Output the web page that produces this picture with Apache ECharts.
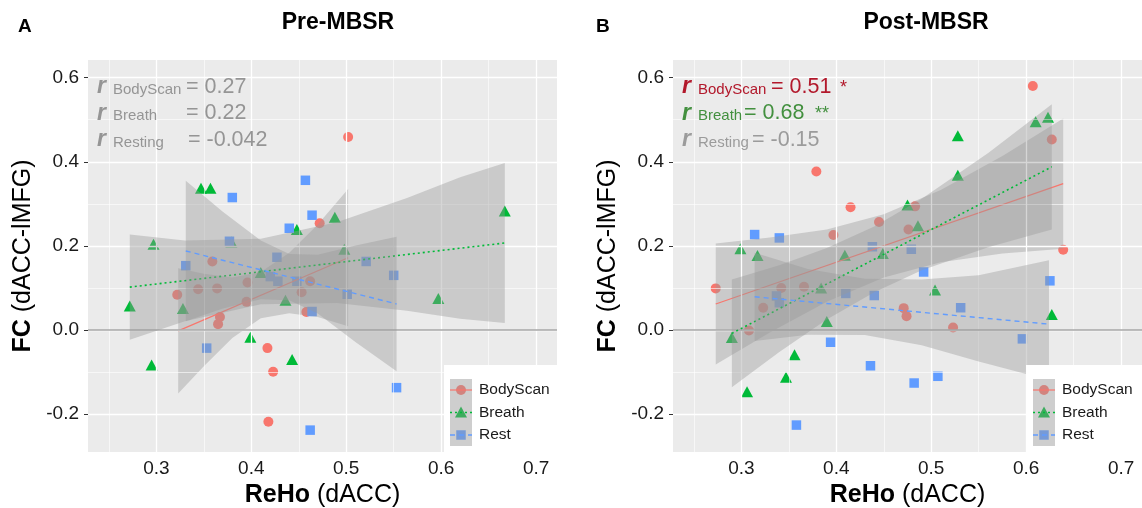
<!DOCTYPE html>
<html>
<head>
<meta charset="utf-8">
<script src="https://cdn.jsdelivr.net/npm/echarts@6/dist/echarts.min.js"></script>
<style>
html, body { margin: 0; padding: 0; background: #fff; }
#main { width: 1142px; height: 508px; }
</style>
</head>
<body>
<div id="main"></div>
<script>
// axis ranges and ticks
var xRange = [0.228, 0.722];
var yRange = [-0.29, 0.642];
var xTicks = [0.3, 0.4, 0.5, 0.6, 0.7];
var yTicks = [-0.2, 0, 0.2, 0.4, 0.6];
var xMinor = [0.25, 0.35, 0.45, 0.55, 0.65];
var yMinor = [-0.1, 0.1, 0.3, 0.5];

var groups = ['BodyScan', 'Breath', 'Rest'];

// Pre-MBSR points [ReHo, FC]
var preBodyScan = [[0.502,0.459],[0.472,0.254],[0.462,0.116],[0.453,0.090],[0.458,0.043],[0.417,-0.043],[0.423,-0.099],[0.418,-0.218],
    [0.359,0.163],[0.322,0.084],[0.344,0.097],[0.364,0.099],[0.396,0.113],[0.395,0.067],[0.367,0.031],[0.365,0.014]];
var preBreath = [[0.347,0.337],[0.357,0.337],[0.297,0.204],[0.379,0.209],[0.272,0.057],[0.328,0.051],[0.295,-0.083],[0.399,-0.017],
    [0.448,0.239],[0.488,0.268],[0.498,0.192],[0.410,0.137],[0.436,0.071],[0.443,-0.070],[0.667,0.283],[0.597,0.075]];
var preRest = [[0.380,0.315],[0.377,0.211],[0.331,0.153],[0.353,-0.043],[0.457,0.356],[0.464,0.273],[0.440,0.242],[0.427,0.173],
    [0.420,0.127],[0.428,0.116],[0.448,0.116],[0.501,0.085],[0.521,0.163],[0.550,0.130],[0.464,0.044],[0.553,-0.137],[0.462,-0.238]];

// Post-MBSR points
var postBodyScan = [[0.379,0.377],[0.273,0.099],[0.397,0.226],[0.342,0.100],[0.366,0.103],[0.323,0.053],[0.308,-0.001],[0.415,0.292],
    [0.445,0.257],[0.483,0.294],[0.476,0.239],[0.471,0.052],[0.474,0.033],[0.523,0.006],[0.607,0.580],[0.627,0.453],[0.639,0.191]];
var postBreath = [[0.299,0.193],[0.317,0.177],[0.384,0.100],[0.390,0.020],[0.290,-0.018],[0.356,-0.059],[0.347,-0.112],[0.306,-0.147],
    [0.528,0.462],[0.528,0.368],[0.475,0.297],[0.486,0.248],[0.409,0.178],[0.449,0.182],[0.504,0.095],[0.610,0.495],[0.623,0.506],[0.627,0.037]];
var postRest = [[0.314,0.227],[0.340,0.219],[0.337,0.081],[0.340,0.065],[0.394,-0.029],[0.358,-0.226],[0.438,0.198],[0.479,0.192],
    [0.492,0.138],[0.410,0.087],[0.440,0.082],[0.531,0.053],[0.436,-0.085],[0.482,-0.126],[0.507,-0.110],[0.625,0.117],[0.596,-0.021]];

// fitted lines (end points)
var preFitBodyScan = [[0.323,-0.002],[0.502,0.172]];
var preFitBreath = [[0.272,0.102],[0.667,0.207]];
var preFitRest = [[0.331,0.188],[0.553,0.062]];
var postFitBodyScan = [[0.273,0.062],[0.639,0.348]];
var postFitBreath = [[0.290,-0.008],[0.627,0.388]];
var postFitRest = [[0.314,0.079],[0.624,0.014]];

// confidence bands [x, lower, upper]
var preBandBodyScan = [[0.323,-0.151,0.147],[0.35,-0.086,0.134],[0.38,-0.019,0.125],[0.41,0.028,0.138],[0.44,0.040,0.184],[0.47,0.031,0.251],[0.502,0.009,0.335]];
var preBandBreath = [[0.272,-0.023,0.227],[0.33,0.021,0.213],[0.41,0.061,0.217],[0.49,0.064,0.256],[0.564,0.046,0.314],[0.62,0.027,0.363],[0.667,0.017,0.397]];
var preBandRest = [[0.331,0.021,0.355],[0.37,0.051,0.281],[0.41,0.073,0.213],[0.44,0.071,0.181],[0.47,0.039,0.179],[0.51,-0.029,0.201],[0.553,-0.098,0.222]];
var postBandBodyScan = [[0.273,-0.082,0.206],[0.33,-0.006,0.220],[0.39,0.067,0.239],[0.45,0.125,0.275],[0.51,0.161,0.333],[0.575,0.182,0.414],[0.639,0.193,0.503]];
var postBandBreath = [[0.29,-0.136,0.120],[0.34,-0.052,0.154],[0.39,0.025,0.195],[0.44,0.090,0.246],[0.49,0.142,0.312],[0.56,0.197,0.421],[0.627,0.239,0.537]];
var postBandRest = [[0.314,-0.026,0.184],[0.37,-0.011,0.145],[0.43,-0.012,0.122],[0.49,-0.036,0.120],[0.55,-0.075,0.130],[0.624,-0.119,0.166]];

var colors = ['#F8766D', '#00BA38', '#619CFF'];
var symbols = ['circle', 'triangle', 'rect'];
var symSizes = [10, [12, 11], 9.5];
var dashes = ['solid', [2, 3], [5, 4]];
var lineWidths = [1.2, 1.6, 1.4];
var font = '"Liberation Sans", Arial, Helvetica, sans-serif';

var panels = [
    { pts: [preBodyScan, preBreath, preRest], fits: [preFitBodyScan, preFitBreath, preFitRest], bands: [preBandBodyScan, preBandBreath, preBandRest] },
    { pts: [postBodyScan, postBreath, postRest], fits: [postFitBodyScan, postFitBreath, postFitRest], bands: [postBandBodyScan, postBandBreath, postBandRest] }
];

var myChart = echarts.init(document.getElementById('main'), null, { renderer: 'canvas' });

function bandSeries(band, idx, z) {
    return {
        type: 'custom', xAxisIndex: idx, yAxisIndex: idx, z: z, silent: true,
        data: [0],
        renderItem: function (params, api) {
            var pts = [];
            for (var i = 0; i < band.length; i++) pts.push(api.coord([band[i][0], band[i][2]]));
            for (var j = band.length - 1; j >= 0; j--) pts.push(api.coord([band[j][0], band[j][1]]));
            return { type: 'polygon', shape: { points: pts }, style: { fill: 'rgba(153,153,153,0.4)' } };
        }
    };
}

var series = [];
var grids = [], xAxes = [], yAxes = [];
var lefts = [88, 673];
var nameStyle = { fontSize: 25, color: '#000', fontFamily: font,
    rich: { b: { fontSize: 25, fontWeight: 'bold', color: '#000', fontFamily: font } } };

panels.forEach(function (p, idx) {
    grids.push({ left: lefts[idx], top: 60, width: 469, height: 392, show: true, backgroundColor: '#EBEBEB', borderWidth: 0, outerBoundsMode: 'none' });
    xAxes.push({
        gridIndex: idx, type: 'value', min: xRange[0], max: xRange[1],
        axisLine: { show: false },
        axisTick: { show: true, length: 4, customValues: xTicks, lineStyle: { color: '#333', width: 1 } },
        axisLabel: { customValues: xTicks, margin: 7, fontSize: 19, color: '#1a1a1a', fontFamily: font,
            formatter: function (v) { return v.toFixed(1); } },
        splitLine: { show: false },
        name: '{b|ReHo} (dACC)', nameLocation: 'middle', nameGap: 27.5,
        nameTextStyle: nameStyle
    });
    yAxes.push({
        gridIndex: idx, type: 'value', min: yRange[0], max: yRange[1],
        axisLine: { show: false },
        axisTick: { show: true, length: 4, customValues: yTicks, lineStyle: { color: '#333', width: 1 } },
        axisLabel: { customValues: yTicks, margin: 9, fontSize: 19, color: '#1a1a1a', fontFamily: font,
            formatter: function (v) { return v.toFixed(1); } },
        splitLine: { show: false },
        name: '{b|FC} (dACC-lMFG)', nameLocation: 'middle', nameGap: 52.5,
        nameTextStyle: nameStyle
    });

    // panel grid lines
    var gl = [];
    xMinor.forEach(function (v) { gl.push({ xAxis: v, lineStyle: { color: '#fff', width: 0.6, type: 'solid' } }); });
    yMinor.forEach(function (v) { gl.push({ yAxis: v, lineStyle: { color: '#fff', width: 0.6, type: 'solid' } }); });
    xTicks.forEach(function (v) { gl.push({ xAxis: v, lineStyle: { color: '#fff', width: 1.3, type: 'solid' } }); });
    yTicks.forEach(function (v) { gl.push({ yAxis: v, lineStyle: { color: '#fff', width: 1.3, type: 'solid' } }); });
    series.push({
        type: 'line', xAxisIndex: idx, yAxisIndex: idx, data: [], z: 1, silent: true,
        markLine: { silent: true, symbol: ['none', 'none'], label: { show: false }, animation: false, data: gl }
    });
    // zero reference line
    series.push({
        type: 'line', xAxisIndex: idx, yAxisIndex: idx, data: [], z: 1, silent: true,
        markLine: { silent: true, symbol: ['none', 'none'], label: { show: false }, animation: false,
            data: [{ yAxis: 0, lineStyle: { color: '#a6a6a6', width: 1.6, type: 'solid' } }] }
    });

    groups.forEach(function (g, k) {
        series.push({
            name: g, type: 'scatter', xAxisIndex: idx, yAxisIndex: idx, z: 2,
            symbol: symbols[k], symbolSize: symSizes[k],
            itemStyle: { color: colors[k], opacity: 1 },
            data: p.pts[k]
        });
    });
    groups.forEach(function (g, k) {
        series.push(bandSeries(p.bands[k], idx, 3 + 2 * k));
        series.push({
            type: 'line', xAxisIndex: idx, yAxisIndex: idx, z: 4 + 2 * k, silent: true,
            showSymbol: false, symbol: 'none',
            lineStyle: { color: colors[k], width: lineWidths[k], type: dashes[k] },
            data: p.fits[k]
        });
    });
});

// annotation rows: [rLeft, subLeft, eqLeft, centreY, sub, valueText, colour, star, starLeft]
var annA = [
    [97, 113, 186, 87, 'BodyScan', '= 0.27', '#959595', '', 0],
    [97, 113, 186, 113.5, 'Breath', '= 0.22', '#959595', '', 0],
    [97, 113, 188, 140, 'Resting', '= -0.042', '#959595', '', 0]
];
var annB = [
    [682, 698, 771, 87, 'BodyScan', '= 0.51', '#B2182B', '*', 840],
    [682, 698, 744, 113.5, 'Breath', '= 0.68', '#43903F', '**', 815],
    [682, 698, 752, 140, 'Resting', '= -0.15', '#9B9B9B', '', 0]
];

var graphics = [];
function txt(x, y, text, f, color, align) {
    graphics.push({ type: 'text', x: x, y: y, z: 100, silent: true,
        style: { text: text, font: f, fill: color, textAlign: align || 'left', textVerticalAlign: 'middle' } });
}
annA.concat(annB).forEach(function (a) {
    txt(a[0], a[3], 'r', 'italic bold 23px ' + font, a[6]);
    txt(a[1], a[3] + 2.5, a[4], '15px ' + font, a[6]);
    txt(a[2], a[3], a[5], '21.5px ' + font, a[6]);
    if (a[7]) txt(a[8], a[3] + 1, a[7], '18px ' + font, a[6]);
});

// titles and panel letters
txt(338, 23, 'Pre-MBSR', 'bold 23px ' + font, '#000', 'center');
txt(926, 23, 'Post-MBSR', 'bold 23px ' + font, '#000', 'center');
txt(18, 27, 'A', 'bold 19px ' + font, '#000');
txt(596, 27, 'B', 'bold 19px ' + font, '#000');

// legends
function legend(boxL, boxR, keyL, textL) {
    var rows = [390, 412.5, 435];
    graphics.push({ type: 'rect', z: 100, silent: true, shape: { x: boxL, y: 365, width: boxR - boxL, height: 87 }, style: { fill: '#fff' } });
    graphics.push({ type: 'rect', z: 101, silent: true, shape: { x: keyL, y: 379, width: 22, height: 67 }, style: { fill: '#F2F2F2' } });
    var cx = keyL + 11;
    rows.forEach(function (cy, k) {
        var sym;
        if (k === 0) sym = { type: 'circle', shape: { cx: cx, cy: cy, r: 5 } };
        else if (k === 1) sym = { type: 'polygon', shape: { points: [[cx, cy - 6], [cx + 6, cy + 5], [cx - 6, cy + 5]] } };
        else sym = { type: 'rect', shape: { x: cx - 4.75, y: cy - 4.75, width: 9.5, height: 9.5 } };
        sym.z = 102; sym.silent = true; sym.style = { fill: colors[k] };
        graphics.push(sym);
        graphics.push({ type: 'line', z: 104, silent: true, shape: { x1: keyL, y1: cy, x2: keyL + 22, y2: cy },
            style: { stroke: colors[k], lineWidth: lineWidths[k], lineDash: dashes[k] === 'solid' ? null : dashes[k] } });
        txt(textL, cy, groups[k], '15.5px ' + font, '#1a1a1a');
    });
    graphics.push({ type: 'rect', z: 103, silent: true, shape: { x: keyL, y: 379, width: 22, height: 67 }, style: { fill: 'rgba(153,153,153,0.4)' } });
}
legend(444, 557, 450, 479);
legend(1026, 1142, 1033, 1062);

var option = {
    animation: false,
    backgroundColor: '#fff',
    textStyle: { fontFamily: font },
    grid: grids,
    xAxis: xAxes,
    yAxis: yAxes,
    series: series,
    graphic: graphics
};
myChart.setOption(option);
</script>
</body>
</html>
